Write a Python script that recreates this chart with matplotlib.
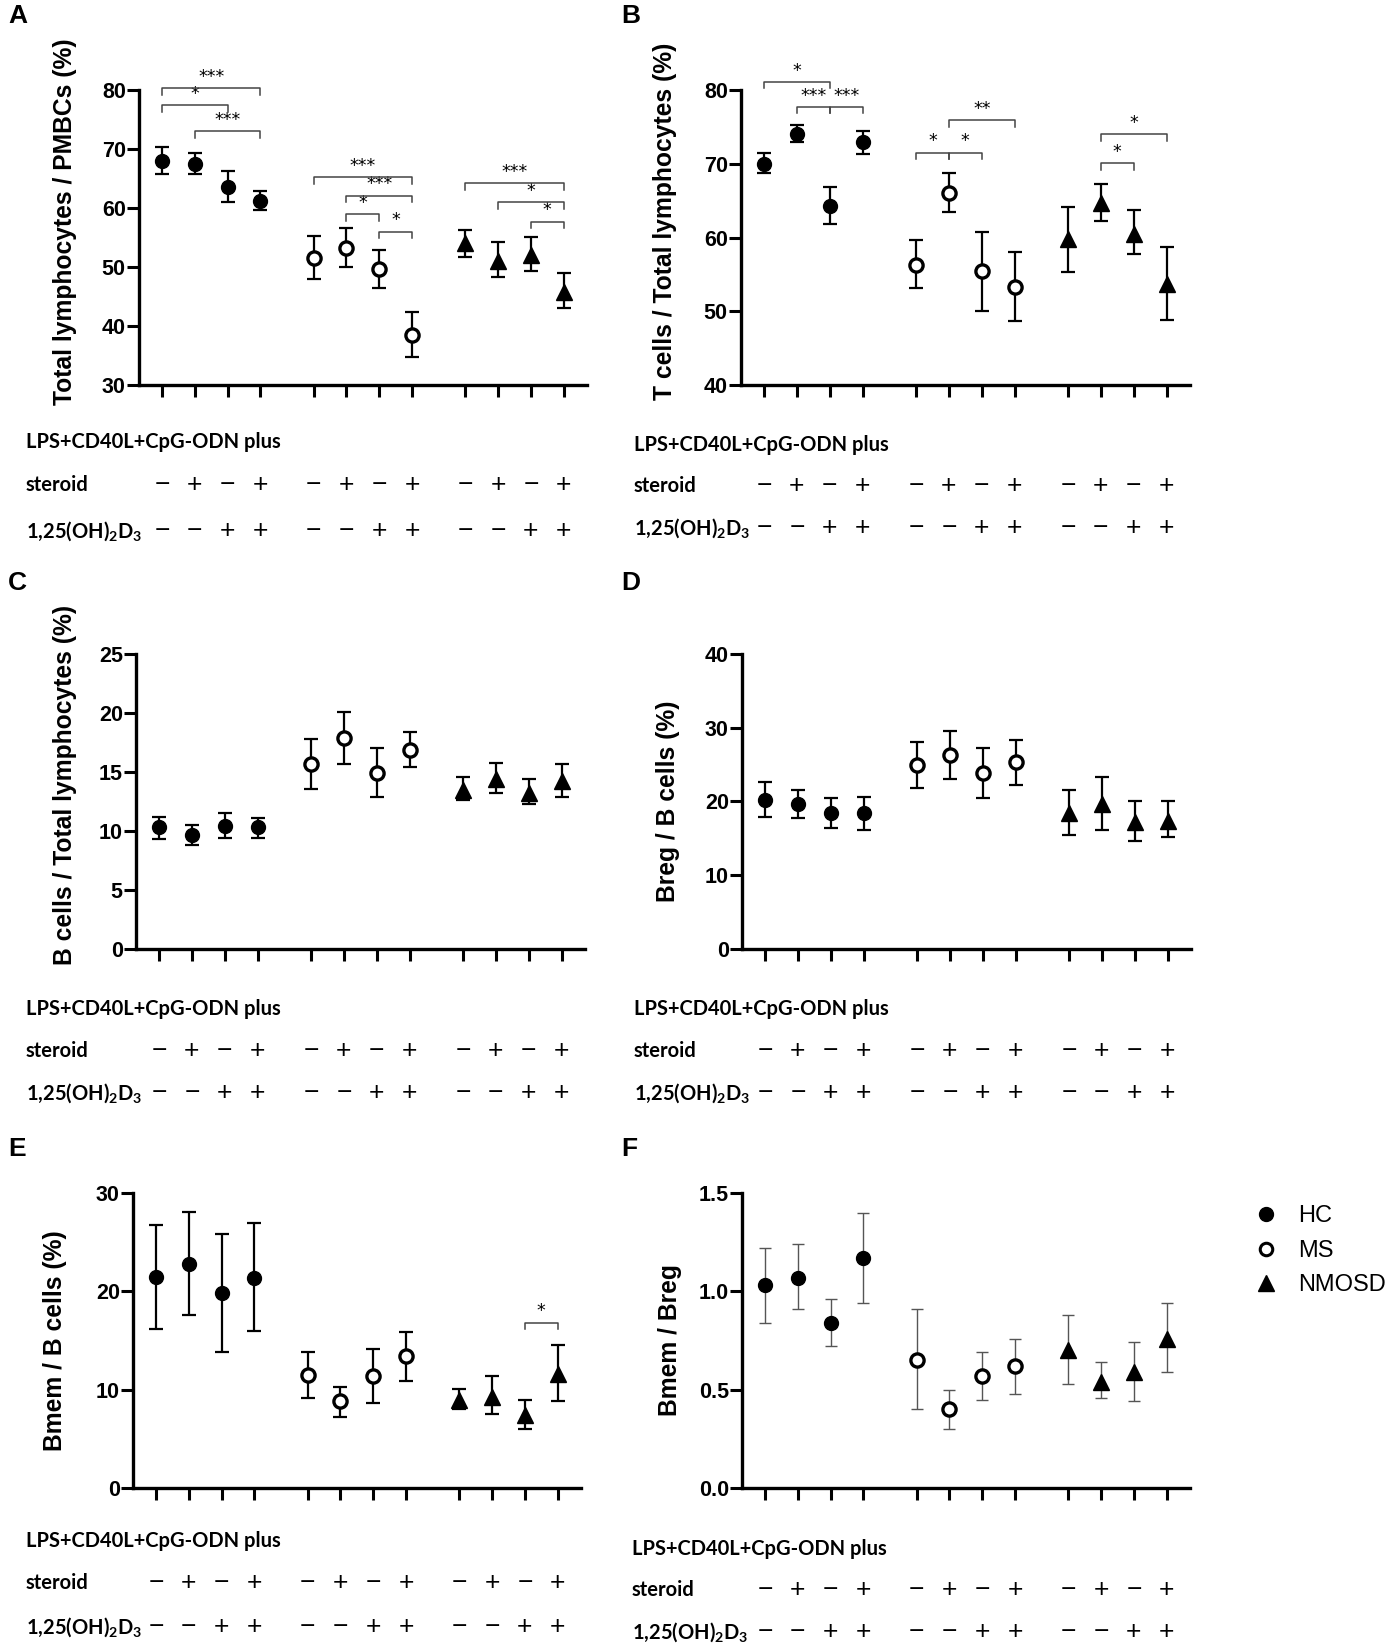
import numpy as np
import matplotlib
import matplotlib.pyplot as plt
from matplotlib.lines import Line2D
from matplotlib import transforms

matplotlib.use('Agg')

plt.rcParams['font.family'] = ['Liberation Sans', 'DejaVu Sans']
plt.rcParams['mathtext.fontset'] = 'custom'
plt.rcParams['mathtext.rm'] = 'Lato:bold'
plt.rcParams['mathtext.default'] = 'rm'

# ---- data (mean, lower, upper) per panel, order: HC x4, MS x4, NMOSD x4 ----
groups = ['HC', 'MS', 'NMOSD']
steroid = ['−', '+', '−', '+'] * 3
vitd3 = ['−', '−', '+', '+'] * 3

a_mean = [68.0, 67.5, 63.6, 61.2, 51.5, 53.3, 49.6, 38.5, 54.0, 51.0, 52.0, 45.8]
a_low = [65.8, 65.8, 61.0, 59.7, 47.9, 50.0, 46.4, 34.8, 51.7, 48.3, 49.3, 43.0]
a_high = [70.3, 69.3, 66.2, 62.8, 55.2, 56.6, 52.8, 42.3, 56.3, 54.3, 55.1, 48.9]

b_mean = [70.0, 74.1, 64.3, 72.9, 56.3, 66.0, 55.4, 53.3, 59.8, 64.7, 60.5, 53.7]
b_low = [68.7, 72.9, 61.8, 71.3, 53.1, 63.4, 50.1, 48.7, 55.3, 62.3, 57.7, 48.8]
b_high = [71.4, 75.3, 66.8, 74.4, 59.6, 68.8, 60.8, 58.0, 64.2, 67.2, 63.7, 58.7]

c_mean = [10.3, 9.7, 10.4, 10.3, 15.7, 17.9, 14.9, 16.9, 13.5, 14.4, 13.2, 14.2]
c_low = [9.3, 8.8, 9.4, 9.4, 13.6, 15.7, 12.9, 15.4, 12.6, 13.2, 12.3, 12.9]
c_high = [11.2, 10.5, 11.5, 11.1, 17.8, 20.1, 17.0, 18.4, 14.6, 15.8, 14.4, 15.7]

d_mean = [20.2, 19.6, 18.4, 18.4, 24.9, 26.3, 23.9, 25.4, 18.4, 19.6, 17.2, 17.4]
d_low = [17.9, 17.8, 16.4, 16.1, 21.8, 23.0, 20.5, 22.3, 15.5, 16.1, 14.6, 15.2]
d_high = [22.6, 21.5, 20.5, 20.6, 28.1, 29.6, 27.3, 28.4, 21.5, 23.3, 20.0, 20.1]

e_mean = [21.5, 22.8, 19.8, 21.4, 11.5, 8.8, 11.4, 13.4, 9.0, 9.3, 7.4, 11.6]
e_low = [16.2, 17.6, 13.8, 16.0, 9.2, 7.2, 8.6, 10.9, 8.0, 7.5, 6.0, 8.8]
e_high = [26.7, 28.1, 25.8, 26.9, 13.8, 10.3, 14.1, 15.9, 10.1, 11.4, 8.9, 14.5]

f_mean = [1.03, 1.07, 0.84, 1.17, 0.65, 0.40, 0.57, 0.62, 0.70, 0.54, 0.59, 0.76]
f_low = [0.84, 0.91, 0.72, 0.94, 0.40, 0.30, 0.45, 0.48, 0.53, 0.46, 0.44, 0.59]
f_high = [1.22, 1.24, 0.96, 1.40, 0.91, 0.50, 0.69, 0.76, 0.88, 0.64, 0.74, 0.94]

# significance brackets: (from index, to index, height, stars)
a_sig = [(0, 3, 80.3, '***'), (0, 2, 77.4, '*'), (1, 3, 73.0, '***'),
         (4, 7, 65.2, '***'), (5, 7, 62.1, '***'), (5, 6, 58.9, '*'), (6, 7, 56.0, '*'),
         (8, 11, 64.2, '***'), (9, 11, 61.0, '*'), (10, 11, 57.7, '*')]
b_sig = [(0, 2, 81.1, '*'), (1, 2, 77.7, '***'), (2, 3, 77.7, '***'),
         (5, 7, 75.9, '**'), (4, 5, 71.5, '*'), (5, 6, 71.5, '*'),
         (9, 11, 74.0, '*'), (9, 10, 70.1, '*')]
e_sig = [(10, 11, 16.8, '*')]

W, H = 1387, 1647
fig = plt.figure(figsize=(W / 100, H / 100), dpi=100)
ov = fig.add_axes([0, 0, 1, 1])
ov.set_xlim(0, W)
ov.set_ylim(H, 0)
ov.axis('off')

xpos = np.concatenate([np.arange(4) + g * 4.62 for g in range(3)])


def px_axes(left, top, right, bottom):
    return fig.add_axes([left / W, 1 - bottom / H, (right - left) / W, (bottom - top) / H])


def draw_panel(rect, letter, letter_xy, mean, low, high, ylim, yticks, ylabel, rows_y, row_x,
               sig=None, fmt=None, thin=False, label_xy=(-0.14, 0.5)):
    ax = px_axes(*rect)
    mean = np.array(mean)
    low = np.array(low)
    high = np.array(high)
    ecol = '#555555' if thin else 'black'
    elw = 1.0 if thin else 1.6
    cap = 4 if thin else 5
    styles = [dict(marker='o', mfc='black', mec='black', ms=10),
              dict(marker='o', mfc='white', mec='black', ms=9.5, mew=2.4),
              dict(marker='^', mfc='black', mec='black', ms=11)]
    for g in range(3):
        sl = slice(4 * g, 4 * g + 4)
        ax.errorbar(xpos[sl], mean[sl], yerr=[mean[sl] - low[sl], high[sl] - mean[sl]],
                    fmt='none', ecolor=ecol, elinewidth=elw, capsize=cap, capthick=elw, zorder=2)
        ax.plot(xpos[sl], mean[sl], linestyle='none', zorder=3, **styles[g])
    ax.set_xlim(-0.7, 12.95)
    ax.set_ylim(*ylim)
    ax.set_yticks(yticks)
    if fmt:
        ax.set_yticklabels([fmt % t for t in yticks])
    ax.set_xticks(xpos)
    ax.set_xticklabels([])
    for s in ['top', 'right']:
        ax.spines[s].set_visible(False)
    for s in ['left', 'bottom']:
        ax.spines[s].set_linewidth(2.4)
    ax.tick_params(axis='both', direction='out', length=8.5, width=2.2)
    ax.tick_params(axis='y', labelsize=15.5, pad=1)
    for t in ax.get_yticklabels():
        t.set_fontweight('bold')
    ax.set_ylabel(ylabel, fontsize=17.7, fontweight='bold')
    ax.yaxis.set_label_coords(*label_xy)

    if sig:
        span = ylim[1] - ylim[0]
        drop = 0.022 * span
        for i, j, h, stars in sig:
            ax.plot([xpos[i], xpos[i], xpos[j], xpos[j]], [h - drop, h, h, h - drop],
                    color='#444444', lw=1.1, clip_on=False, zorder=4)
            ax.text((xpos[i] + xpos[j]) / 2, h + 0.008 * span, stars,
                    ha='center', va='bottom', fontsize=12.5, family='DejaVu Sans',
                    clip_on=False)

    ov.text(letter_xy[0], letter_xy[1], letter, fontsize=19, fontweight='bold',
            ha='left', va='center')
    # condition rows
    lab_font = ['Lato', 'DejaVu Sans']
    ov.text(row_x, rows_y[0], 'LPS+CD40L+CpG-ODN plus', fontsize=14.5, fontweight='bold',
            family=lab_font, va='center', ha='left')
    ov.text(row_x, rows_y[1], 'steroid', fontsize=14.5, fontweight='bold', family=lab_font,
            va='center', ha='left')
    ov.text(row_x, rows_y[2], '1,25(OH)$_2$D$_3$', fontsize=14.5, fontweight='bold',
            family=lab_font, va='center', ha='left')
    tr = transforms.blended_transform_factory(ax.transData, ov.transData)
    for k in range(12):
        ov.text(xpos[k], rows_y[1], steroid[k], transform=tr, ha='center', va='center',
                fontsize=19, family='Liberation Sans')
        ov.text(xpos[k], rows_y[2], vitd3[k], transform=tr, ha='center', va='center',
                fontsize=19, family='Liberation Sans')
    return ax


draw_panel((139, 90, 587, 385), 'A', (8, 16), a_mean, a_low, a_high, (30, 80),
           np.arange(30, 81, 10), 'Total lymphocytes / PMBCs (%)', (442, 485, 531),
           26, sig=a_sig, label_xy=(-0.138, 0.555))
draw_panel((741, 90, 1190, 385), 'B', (621, 16), b_mean, b_low, b_high, (40, 80),
           np.arange(40, 81, 10), 'T cells / Total lymphocytes (%)', (445, 486, 528),
           634, sig=b_sig, label_xy=(-0.143, 0.555))
draw_panel((136, 654, 585, 949), 'C', (8, 583), c_mean, c_low, c_high, (0, 25),
           np.arange(0, 26, 5), 'B cells / Total lymphocytes (%)', (1009, 1051, 1093),
           26, label_xy=(-0.131, 0.555))
draw_panel((742, 654, 1191, 949), 'D', (621, 583), d_mean, d_low, d_high, (0, 40),
           np.arange(0, 41, 10), 'Breg / B cells (%)', (1009, 1051, 1093),
           634, label_xy=(-0.139, 0.5))
draw_panel((133, 1193, 581, 1488), 'E', (8, 1149), e_mean, e_low, e_high, (0, 30),
           np.arange(0, 31, 10), 'Bmem / B cells (%)', (1541, 1583, 1627),
           26, sig=e_sig, label_xy=(-0.148, 0.5))
draw_panel((742, 1193, 1190, 1488), 'F', (621, 1149), f_mean, f_low, f_high, (0, 1.5),
           np.arange(0, 1.51, 0.5), 'Bmem / Breg', (1549, 1590, 1632),
           632, fmt='%.1f', thin=True, label_xy=(-0.133, 0.5))

handles = [Line2D([], [], linestyle='none', marker='o', mfc='black', mec='black', ms=10),
           Line2D([], [], linestyle='none', marker='o', mfc='white', mec='black', ms=9, mew=2.2),
           Line2D([], [], linestyle='none', marker='^', mfc='black', mec='black', ms=11)]
fig.legend(handles, groups, loc='upper left', bbox_to_anchor=(1233 / W, 1 - 1184 / H),
           frameon=False, handlelength=1.0, handletextpad=0.86, labelspacing=0.53,
           prop={'family': 'Liberation Sans', 'size': 17})

fig.savefig('out.png', dpi=100)
